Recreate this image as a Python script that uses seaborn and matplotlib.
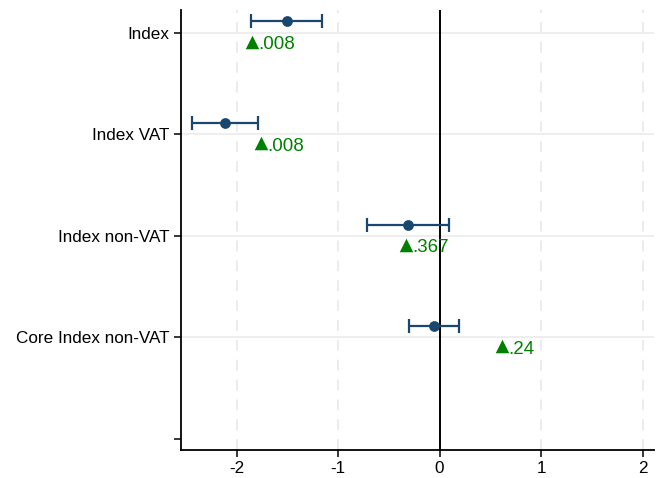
import numpy as np
import pandas as pd
import seaborn as sns
import matplotlib.pyplot as plt

# coefficient estimates with 95% CI, and a second estimate (triangle) with its p-value label
categories = ["Index", "Index VAT", "Index non-VAT", "Core Index non-VAT"]
coef = [-1.507, -2.118, -0.315, -0.059]
ci_low = [-1.862, -2.443, -0.719, -0.305]
ci_high = [-1.163, -1.793, 0.089, 0.187]
tri_x = [-1.85, -1.764, -0.335, 0.611]
tri_labels = [".008", ".008", ".367", ".24"]

navy = "#1a476f"
green = "#008000"

pos = np.arange(1, len(categories) + 1)
df = pd.DataFrame({"cat": categories, "pos": pos, "coef": coef,
                   "lo": ci_low, "hi": ci_high, "tri": tri_x, "lab": tri_labels})
df["ypt"] = df["pos"] - 0.11
df["ytri"] = df["pos"] + 0.09

sns.set_style("white")
plt.rcParams["font.family"] = ["Liberation Sans", "DejaVu Sans"]

fig = plt.figure(figsize=(6.65, 4.78), dpi=100)
ax = fig.add_axes([0.272, 0.0586, 0.711, 0.92])

# grid
for v in [-2, -1, 1, 2]:
    ax.axvline(v, color="#ebebeb", lw=1.3, ls=(0, (6, 5)), zorder=0)
for p in pos:
    ax.axhline(p, color="#ebebeb", lw=1.2, zorder=0)
ax.axvline(0, color="black", lw=1.4, zorder=1)

ax.errorbar(df["coef"], df["ypt"],
            xerr=[df["coef"] - df["lo"], df["hi"] - df["coef"]],
            fmt="none", ecolor=navy, elinewidth=1.6, capsize=5, capthick=1.6, zorder=2)
sns.scatterplot(data=df, x="coef", y="ypt", ax=ax, color=navy, s=60,
                edgecolor=navy, linewidth=0, zorder=3)
sns.scatterplot(data=df, x="tri", y="ytri", ax=ax, color=green, marker="^", s=95,
                edgecolor=green, linewidth=0, zorder=3)
for _, r in df.iterrows():
    ax.annotate(r["lab"], (r["tri"], r["ytri"]), xytext=(4.5, -2), textcoords="offset points",
                ha="left", va="center", color=green, fontsize=13.5)

ax.set_xlim(-2.55, 2.11)
ax.set_ylim(5.11, 0.78)
ax.set_xticks([-2, -1, 0, 1, 2])
ax.set_xticklabels(["-2", "-1", "0", "1", "2"])
ax.set_yticks(list(pos) + [5])
ax.set_yticklabels(categories + [""])
ax.set_xlabel("")
ax.set_ylabel("")
ax.tick_params(axis="both", direction="out", length=5, width=1.1, labelsize=12.3,
               colors="black", left=True, bottom=True, pad=3)
for s in ["top", "right"]:
    ax.spines[s].set_visible(False)
for s in ["left", "bottom"]:
    ax.spines[s].set_color("black")
    ax.spines[s].set_linewidth(1.3)

fig.savefig("out.png", dpi=100)
